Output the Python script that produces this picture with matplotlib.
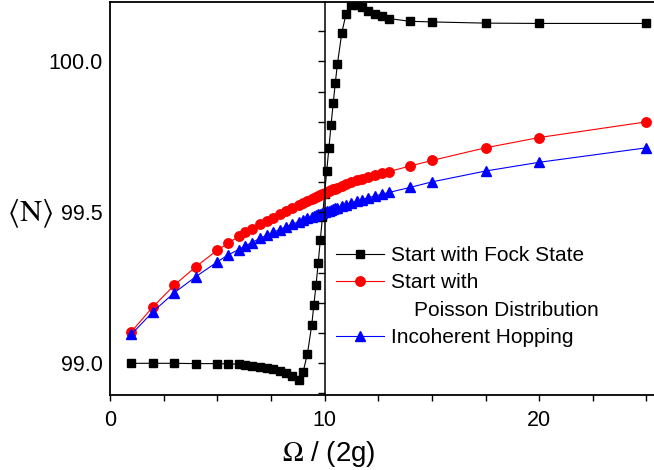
import matplotlib
matplotlib.use("Agg")
import matplotlib.pyplot as plt
from matplotlib.lines import Line2D
from matplotlib.ticker import MultipleLocator

plt.rcParams['font.family'] = ['Liberation Sans', 'DejaVu Sans']
plt.rcParams['mathtext.fontset'] = 'stix'

# Omega/(2g) values shared by all three runs
omega = [1, 2, 3, 4, 5, 5.5, 6, 6.3, 6.6, 7, 7.3, 7.6, 7.9, 8.2, 8.5, 8.8,
         9.0, 9.2, 9.4, 9.5, 9.6, 9.7, 9.8, 9.9, 10.0, 10.1, 10.2, 10.3,
         10.4, 10.5, 10.6, 10.8, 11.0, 11.25, 11.5, 11.75, 12.0, 12.33,
         12.67, 13, 14, 15, 17.5, 20, 25]

fock = [99.0, 99.0, 99.0, 98.999, 98.999, 98.998, 98.997, 98.994, 98.991,
        98.988, 98.985, 98.981, 98.975, 98.967, 98.957, 98.946,
        98.972, 99.031, 99.127, 99.193, 99.259, 99.331, 99.408, 99.485,
        99.562, 99.638, 99.713, 99.789, 99.861, 99.930, 99.993, 100.094,
        100.158, 100.187, 100.187, 100.179, 100.168, 100.157, 100.149,
        100.142, 100.133, 100.131, 100.127, 100.126, 100.126]

poisson = [99.105, 99.187, 99.259, 99.320, 99.375, 99.397, 99.421, 99.434,
           99.446, 99.461, 99.472, 99.483, 99.494, 99.505, 99.515, 99.525,
           99.532, 99.538, 99.545, 99.548, 99.551, 99.554, 99.557, 99.560,
           99.564, 99.567, 99.570, 99.573, 99.576, 99.579, 99.582, 99.587,
           99.593, 99.600, 99.606, 99.612, 99.618, 99.625, 99.631, 99.635,
           99.654, 99.672, 99.714, 99.748, 99.800]

hopping = [99.096, 99.171, 99.234, 99.287, 99.336, 99.359, 99.377, 99.388,
           99.400, 99.414, 99.424, 99.434, 99.443, 99.452, 99.461, 99.469,
           99.475, 99.480, 99.486, 99.488, 99.491, 99.494, 99.496, 99.499,
           99.501, 99.504, 99.506, 99.509, 99.511, 99.514, 99.516, 99.521,
           99.526, 99.531, 99.537, 99.542, 99.548, 99.554, 99.560, 99.566,
           99.583, 99.601, 99.637, 99.666, 99.714]

labels = ['Start with Fock State', 'Start with',
          '    Poisson Distribution', 'Incoherent Hopping']

fig = plt.figure(figsize=(6.54, 4.7), dpi=100)
W, H = 654, 470
ax = fig.add_axes([110 / W, (H - 395) / H, (W - 110) / W, 393 / H])

l1, = ax.plot(omega, fock, color='black', lw=0.8, marker='s', ms=6.2)
l2, = ax.plot(omega, poisson, color='red', lw=0.8, marker='o', ms=6.8)
l3, = ax.plot(omega, hopping, color='blue', lw=0.8, marker='^', ms=7.2)

xlim = (0, 25.35)
ylim = (98.895, 100.197)
ax.set_xlim(xlim)
ax.set_ylim(ylim)

ax.spines['right'].set_visible(False)
for s in ['left', 'bottom', 'top']:
    ax.spines[s].set_linewidth(1.3)

ax.xaxis.set_major_locator(MultipleLocator(10))
ax.xaxis.set_minor_locator(MultipleLocator(2.5))
ax.set_yticks([99.0, 99.5, 100.0])
ax.set_yticklabels(['99.0', '99.5', '100.0'])
ax.tick_params(axis='x', which='both', direction='out', length=4, width=1,
               labelsize=15.5, pad=7)
ax.tick_params(axis='y', length=0, labelsize=15.5, pad=5)

# inner axis line at Omega/(2g) = 10 with small ticks
ax2 = fig.add_axes(ax.get_position())
ax2.patch.set_visible(False)
for s in ['top', 'right', 'bottom']:
    ax2.spines[s].set_visible(False)
ax2.spines['left'].set_position(('data', 10))
ax2.spines['left'].set_linewidth(1.1)
ax2.set_xlim(xlim)
ax2.set_ylim(ylim)
ax2.xaxis.set_visible(False)
ax2.yaxis.set_major_locator(MultipleLocator(0.1))
ax2.tick_params(axis='y', direction='out', length=5, width=1, labelleft=False)

fig.text(329 / W, 1 - 454 / H, r'$\Omega$ / (2g)', fontsize=20,
         ha='center', va='center')
fig.text(30 / W, 1 - 214 / H, r'$\langle\mathrm{N}\rangle$', fontsize=22,
         ha='center', va='center')

blank = Line2D([], [], linestyle='none')
ax2.legend([l1, l2, blank, l3], labels, loc='upper left',
           bbox_to_anchor=(336 / W, 1 - 246 / H), bbox_transform=fig.transFigure,
           frameon=False, fontsize=15, borderpad=0, borderaxespad=0,
           handlelength=2.3, handletextpad=0.32, labelspacing=0.4)

fig.savefig('out.png', dpi=100)
